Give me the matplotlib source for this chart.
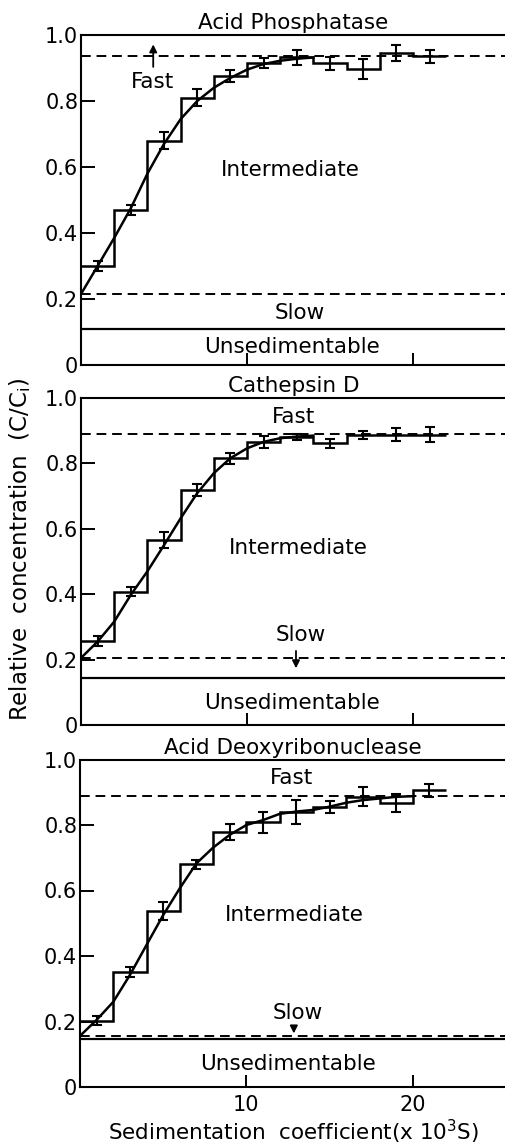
import numpy as np
import matplotlib
matplotlib.use("Agg")
import matplotlib.pyplot as plt

plt.rcParams["font.family"] = ["DejaVu Sans"]
plt.rcParams["mathtext.default"] = "regular"

# histogram bins (x 10^3 S)
bin_edges = [0, 2, 4, 6, 8, 10, 12, 14, 16, 18, 20, 22]
bin_centers = [1, 3, 5, 7, 9, 11, 13, 15, 17, 19, 21]

titles = ["Acid Phosphatase", "Cathepsin D", "Acid Deoxyribonuclease"]

# step heights (C/Ci)
ap_steps = [0.30, 0.47, 0.68, 0.81, 0.875, 0.915, 0.932, 0.914, 0.898, 0.945, 0.935]
ap_err = [0.014, 0.016, 0.026, 0.025, 0.018, 0.014, 0.022, 0.02, 0.03, 0.025, 0.019]
cd_steps = [0.258, 0.408, 0.566, 0.718, 0.815, 0.866, 0.88, 0.861, 0.887, 0.887, 0.887]
cd_err = [0.015, 0.015, 0.025, 0.018, 0.016, 0.019, 0.009, 0.014, 0.012, 0.02, 0.023]
dn_steps = [0.202, 0.35, 0.537, 0.68, 0.778, 0.808, 0.839, 0.854, 0.887, 0.868, 0.906]
dn_err = [0.014, 0.015, 0.027, 0.013, 0.025, 0.032, 0.036, 0.018, 0.029, 0.028, 0.02]

# smooth integral curves
ap_curve_x = [0, 1, 2, 3, 4, 5, 6, 7, 8, 9, 10, 11, 12, 13, 14]
ap_curve_y = [0.215, 0.30, 0.385, 0.475, 0.58, 0.67, 0.745, 0.80, 0.84, 0.87, 0.895, 0.912, 0.922, 0.928, 0.932]
cd_curve_x = [0, 1, 2, 3, 4, 5, 6, 7, 8, 9, 10, 11, 12, 13, 14]
cd_curve_y = [0.205, 0.255, 0.316, 0.398, 0.47, 0.55, 0.632, 0.709, 0.77, 0.816, 0.846, 0.866, 0.877, 0.882, 0.885]
dn_curve_x = [0, 1, 2, 3, 4, 5, 6, 7, 8, 9, 10, 11, 12, 13, 14, 15, 16, 17, 18, 19, 20]
dn_curve_y = [0.156, 0.205, 0.26, 0.342, 0.434, 0.525, 0.607, 0.683, 0.731, 0.77, 0.80, 0.815, 0.834, 0.841,
              0.846, 0.856, 0.868, 0.876, 0.881, 0.886, 0.888]

# boundaries between classes
fast_level = [0.937, 0.889, 0.89]
slow_level = [0.215, 0.204, 0.156]
unsed_level = [0.109, 0.145, 0.147]

# arrows: (x, y_from, y_to)
arrows = [(4.35, 0.895, 0.98), (12.95, 0.235, 0.165), (12.85, 0.195, 0.155)]

# label positions (x, y) for Fast, Intermediate, Slow, Unsedimentable
fast_pos = [(4.3, 0.858), (12.8, 0.943), (12.7, 0.943)]
inter_pos = [(12.6, 0.59), (13.1, 0.54), (12.9, 0.525)]
slow_pos = [(13.2, 0.157), (13.25, 0.275), (13.1, 0.227)]
unsed_pos = [(12.7, 0.055), (12.7, 0.066), (12.5, 0.07)]

steps = [ap_steps, cd_steps, dn_steps]
errs = [ap_err, cd_err, dn_err]
curves = [(ap_curve_x, ap_curve_y), (cd_curve_x, cd_curve_y), (dn_curve_x, dn_curve_y)]

fig = plt.figure(figsize=(5.06, 11.47), dpi=100)
W, H = 506, 1147
# axes boxes in pixels: (left, top, bottom)
boxes = [(81, 35, 365), (81, 398, 725), (80, 759.5, 1087)]

for i in range(3):
    left, top, bottom = boxes[i]
    ax = fig.add_axes([left / W, 1 - bottom / H, 1 - left / W, (bottom - top) / H])
    ax.set_xlim(0, 25.6)
    ax.set_ylim(0, 1.0)
    ax.spines["right"].set_visible(False)
    for s in ["left", "bottom", "top"]:
        ax.spines[s].set_linewidth(1.5)

    ax.axhline(fast_level[i], color="k", ls=(0, (5, 3)), lw=1.4)
    ax.axhline(slow_level[i], color="k", ls=(0, (5, 3)), lw=1.4)
    ax.axhline(unsed_level[i], color="k", lw=1.6)

    ax.stairs(steps[i], bin_edges, baseline=None, color="k", lw=1.8)
    ax.errorbar(bin_centers, steps[i], yerr=errs[i], fmt="none", ecolor="k",
                elinewidth=1.5, capsize=3.5, capthick=1.5)
    cx, cy = curves[i]
    ax.plot(cx, cy, color="k", lw=1.8)

    x, y0, y1 = arrows[i]
    ax.annotate("", xy=(x, y1), xytext=(x, y0),
                arrowprops=dict(arrowstyle="-|>", color="k", lw=1.3, mutation_scale=11))

    ax.text(*fast_pos[i], "Fast", ha="center", va="center", fontsize=15.5)
    ax.text(*inter_pos[i], "Intermediate", ha="center", va="center", fontsize=15.5)
    ax.text(*slow_pos[i], "Slow", ha="center", va="center", fontsize=15.5)
    ax.text(*unsed_pos[i], "Unsedimentable", ha="center", va="center", fontsize=15.5)

    ax.set_title(titles[i], fontsize=15.5, pad=4)

    ax.set_yticks([0, 0.2, 0.4, 0.6, 0.8, 1.0])
    ax.set_yticklabels(["0", "0.2", "0.4", "0.6", "0.8", "1.0"])
    ax.set_xticks([10, 20])
    ax.tick_params(axis="y", direction="in", length=10, width=1.4, pad=2, labelsize=15)
    ax.tick_params(axis="x", direction="in", length=9, width=1.4, pad=6, labelsize=15)
    if i < 2:
        ax.set_xticklabels([])

fig.text(0.04, 0.521, "Relative  concentration  (C/C$_{i}$)", rotation=90,
         ha="center", va="center", fontsize=16.5)
fig.text(0.581, 0.013, "Sedimentation  coefficient(x 10$^{3}$S)",
         ha="center", va="center", fontsize=15.5)

fig.savefig("out.png", dpi=100)
